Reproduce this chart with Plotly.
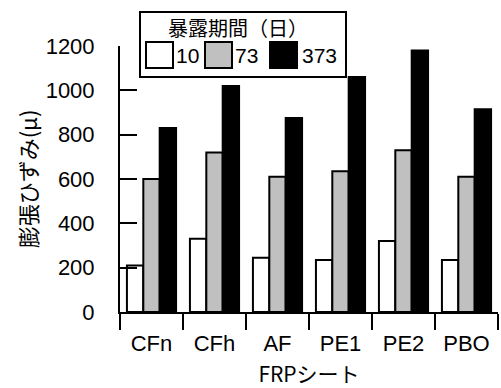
import plotly.graph_objects as go

# FRP sheet types and exposure periods (days)
categories = ["CFn", "CFh", "AF", "PE1", "PE2", "PBO"]
periods = ["10", "73", "373"]

# Expansion strain (μ) for each exposure period
strain_10 = [210, 330, 245, 235, 320, 235]
strain_73 = [600, 720, 610, 635, 730, 610]
strain_373 = [830, 1020, 875, 1060, 1180, 915]

y_ticks = [0, 200, 400, 600, 800, 1000, 1200]
fills = ["#ffffff", "#c0c0c0", "#000000"]

W, H = 501, 388
L, R, T, B = 120, 3, 46, 76
PW, PH = W - L - R, H - T - B

FONT = "Liberation Sans, Arial, sans-serif"
CJK = "Noto Sans CJK JP, sans-serif"


def px(x):
    return (x - L) / PW


def py(y):
    return (H - B - y) / PH


fig = go.Figure()
for name, vals, col in zip(periods, [strain_10, strain_73, strain_373], fills):
    fig.add_trace(go.Bar(
        x=categories, y=vals, name=name,
        marker=dict(color=col, line=dict(color="#000000", width=2)),
        showlegend=False,
    ))

# legend box drawn by hand so the swatches can be large
shapes = [dict(type="rect", xref="paper", yref="paper",
               x0=px(140), x1=px(346), y0=py(77), y1=py(12),
               line=dict(color="#000000", width=2), fillcolor="#ffffff",
               layer="above")]
annotations = [dict(text="暴露期間（日）", xref="paper", yref="paper",
                    x=px(238), y=py(28), showarrow=False,
                    font=dict(family=CJK, size=20, color="#000000"),
                    xanchor="center", yanchor="middle")]
sw_left = [146, 205, 270]
txt_left = [174, 233, 300]
for name, col, sx, tx in zip(periods, fills, sw_left, txt_left):
    shapes.append(dict(type="rect", xref="paper", yref="paper",
                       x0=px(sx), x1=px(sx + 27), y0=py(68), y1=py(42),
                       line=dict(color="#000000", width=2), fillcolor=col,
                       layer="above"))
    annotations.append(dict(text=name, xref="paper", yref="paper",
                            x=px(tx), y=py(55), showarrow=False,
                            font=dict(family=FONT, size=21, color="#000000"),
                            xanchor="left", yanchor="middle"))

fig.update_layout(
    width=W, height=H,
    margin=dict(l=L, r=R, t=T, b=B, pad=0),
    paper_bgcolor="#ffffff", plot_bgcolor="#ffffff",
    barmode="group", bargap=0.22, bargroupgap=0,
    font=dict(family=FONT, size=22, color="#000000"),
    shapes=shapes, annotations=annotations,
    xaxis=dict(
        range=[-0.5, 5.5], showline=True, linecolor="#000000", linewidth=2,
        ticks="outside", tickson="boundaries", ticklen=16, tickwidth=2,
        tickcolor="#000000", showgrid=False, zeroline=False,
        ticklabelstandoff=11,
        tickfont=dict(family=FONT, size=22),
        title=dict(text="FRPシート", font=dict(family=CJK, size=21), standoff=13),
    ),
    yaxis=dict(
        range=[0, 1200], showline=True, linecolor="#000000", linewidth=2,
        ticks="inside", ticklen=17, tickwidth=2, tickcolor="#000000",
        tickvals=y_ticks, ticktext=[str(v) for v in y_ticks],
        showgrid=False, zeroline=False, ticklabelstandoff=19,
        tickfont=dict(family=FONT, size=22),
        title=dict(text="膨張ひずみ(μ)", font=dict(family=CJK, size=22), standoff=2),
    ),
)

fig.write_html("out.html")
